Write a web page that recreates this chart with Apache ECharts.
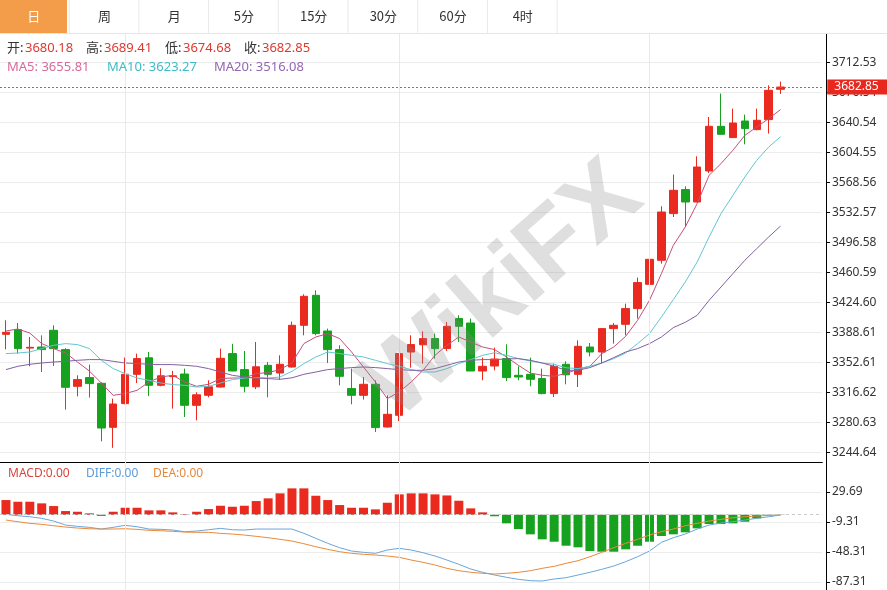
<!DOCTYPE html>
<html><head><meta charset="utf-8">
<script src="https://cdn.jsdelivr.net/npm/echarts@6/dist/echarts.min.js"></script>
<style>html,body{margin:0;padding:0;background:#fff;}#c{width:887px;height:590px;}</style>
</head><body><div id="c"></div>
<script>
const tabs = ['日','周','月','5分','15分','30分','60分','4时'];
const opens = [3386.13,3391.77,3369.57,3370.89,3390.93,3367.77,3323.73,3334.17,3327.33,3274.53,3302.97,3338.13,3357.93,3324.93,3335.37,3338.49,3300.93,3312.93,3322.89,3362.97,3343.77,3323.13,3348.93,3339.69,3346.89,3396.93,3432.93,3390.09,3367.77,3320.97,3312.93,3326.13,3274.89,3288.93,3364.89,3373.53,3380.97,3368.97,3404.97,3399.69,3342.09,3348.09,3356.97,3336.93,3338.13,3332.97,3314.97,3350.13,3338.13,3370.89,3364.89,3392.97,3398.13,3416.97,3446.13,3474.93,3530.97,3559.77,3544.89,3582.09,3635.73,3622.17,3642.09,3631.77,3643.77,3680.18];
const closes = [3388.53,3368.97,3370.53,3367.77,3368.97,3322.53,3331.77,3326.97,3273.69,3302.49,3338.13,3356.97,3324.93,3336.33,3336.33,3300.93,3313.53,3323.13,3357.33,3342.09,3323.73,3347.13,3338.13,3350.13,3396.93,3431.73,3386.97,3367.77,3335.73,3312.93,3326.13,3274.17,3290.13,3362.97,3373.77,3380.97,3368.97,3395.73,3395.73,3342.09,3347.73,3356.49,3334.17,3334.89,3332.13,3314.97,3347.73,3337.53,3371.73,3364.89,3392.97,3396.93,3416.97,3448.17,3476.13,3532.89,3558.93,3544.89,3586.89,3635.73,3626.13,3639.69,3632.97,3642.93,3678.93,3682.85];
const lows = [3368.13,3362.97,3347.73,3340.89,3348.09,3295.77,3311.73,3310.17,3257.73,3249.93,3302.13,3327.69,3311.97,3323.73,3296.97,3286.89,3282.93,3310.53,3322.17,3341.73,3316.53,3320.37,3310.53,3331.77,3346.17,3384.93,3384.93,3351.69,3324.93,3302.13,3307.77,3268.89,3274.17,3282.09,3346.17,3350.97,3356.97,3366.09,3376.89,3342.09,3330.93,3342.93,3330.09,3330.93,3323.73,3314.13,3310.89,3326.13,3322.89,3359.73,3351.69,3374.97,3384.93,3404.97,3436.89,3470.97,3526.89,3514.89,3544.53,3579.69,3626.13,3622.17,3614.13,3630.93,3626.97,3674.68];
const highs = [3402.93,3399.69,3382.89,3384.93,3396.93,3369.33,3336.93,3349.77,3328.53,3308.97,3358.17,3362.97,3364.89,3345.33,3342.33,3344.97,3316.53,3330.93,3368.97,3374.73,3366.09,3376.89,3352.89,3360.93,3401.37,3434.13,3438.93,3392.97,3372.93,3344.97,3334.89,3330.93,3312.93,3363.69,3384.93,3389.73,3386.97,3400.89,3408.93,3404.97,3358.17,3370.17,3374.13,3347.73,3358.17,3344.97,3350.97,3353.73,3378.93,3375.69,3393.33,3399.69,3422.97,3454.17,3488.97,3539.73,3577.77,3563.73,3599.73,3646.89,3674.97,3656.97,3649.77,3656.97,3684.93,3689.41];
const ma5 = [3390.09,3392.49,3387.69,3374.97,3368.97,3363.69,3352.89,3342.09,3327.69,3312.93,3314.97,3318.93,3328.89,3334.89,3336.93,3328.89,3323.73,3326.13,3332.97,3333.69,3333.69,3338.97,3340.17,3343.77,3351.93,3374.97,3382.89,3386.97,3380.97,3364.89,3346.89,3328.89,3308.97,3316.89,3328.89,3342.93,3360.93,3372.93,3382.89,3376.89,3370.89,3367.77,3358.89,3348.93,3339.69,3336.93,3335.73,3339.33,3344.13,3347.73,3362.97,3370.89,3383.73,3402.93,3426.93,3458.97,3492.93,3514.89,3542.97,3576.93,3590.97,3606.93,3624.93,3634.89,3644.97,3655.81];
const ma10 = [3362.97,3363.69,3364.89,3368.97,3372.93,3374.97,3373.77,3368.97,3354.93,3344.97,3338.97,3333.69,3330.93,3327.69,3325.77,3324.93,3322.89,3323.73,3327.69,3331.77,3333.69,3334.17,3333.69,3334.89,3341.73,3350.97,3358.89,3364.89,3362.97,3360.93,3358.89,3354.93,3350.97,3347.73,3343.77,3340.89,3340.89,3344.97,3350.97,3355.77,3360.93,3363.93,3360.93,3356.97,3354.09,3351.69,3350.13,3345.93,3344.97,3347.73,3351.69,3356.97,3363.69,3374.97,3386.97,3406.89,3427.77,3448.89,3472.89,3502.89,3530.97,3552.93,3574.89,3594.93,3610.89,3623.27];
const ma20 = [3343.77,3347.73,3350.13,3351.69,3352.89,3353.73,3354.93,3355.77,3355.77,3353.73,3351.69,3350.97,3350.13,3349.77,3349.77,3348.93,3347.73,3344.97,3340.89,3336.93,3334.89,3333.69,3332.97,3332.13,3333.93,3338.13,3340.89,3343.77,3344.97,3346.17,3346.89,3346.17,3344.97,3343.77,3342.93,3342.93,3344.97,3348.93,3352.89,3354.93,3355.77,3355.77,3356.49,3356.97,3354.93,3351.69,3347.73,3342.93,3342.93,3346.17,3351.69,3358.17,3364.89,3368.97,3374.97,3382.89,3394.17,3400.53,3408.93,3426.93,3442.89,3458.97,3474.93,3488.97,3502.89,3516.08];
const macdHist = [19.1,16.9,16.9,14.8,11.3,4.8,3.9,1.8,-1.5,3.9,9.1,9.1,5.7,5.7,3.1,0.9,3.9,7.4,11.7,10.4,11.7,17.8,21.3,27.8,34.3,34.3,24.7,19.1,12.6,9.1,9.1,7.0,15.6,26.5,27.8,27.8,26.5,25.1,18.2,8.3,3.1,-2,-11.2,-18.6,-25.5,-32,-35.1,-40.3,-42.4,-47.2,-48.1,-48.1,-45,-40.3,-35.1,-27.7,-25.5,-22.9,-17.7,-12.1,-12.1,-11.2,-9.1,-4.7,-1,-0.3];
const diff = [0.5,-1.3,-2.6,-4.7,-8.2,-13.4,-15.1,-16.4,-18.6,-16.4,-13.8,-15.6,-18.6,-19,-19.9,-22.1,-21.2,-19.5,-17.7,-19.5,-19.9,-18.6,-18.6,-18.6,-18.6,-24.2,-30.7,-37.2,-42.9,-47.2,-48.9,-50.2,-45.9,-43.7,-45.9,-49.4,-53.7,-58.9,-64.5,-70.6,-74.9,-78.4,-81.4,-84,-85.8,-86.2,-83.6,-81.9,-78.4,-74.9,-71,-66.7,-61.1,-54.6,-47.2,-35.9,-29.9,-25.1,-18.6,-13.4,-10.8,-9.1,-6.9,-4.7,-2.6,-0.4];
const dea = [-6.9,-9.1,-11.2,-12.5,-14.3,-16,-17.3,-18.2,-18.6,-18.6,-18.2,-19,-20.3,-20.8,-21.6,-22.5,-22.9,-22.9,-24.2,-25.1,-26.4,-28.1,-29.9,-32,-34.2,-37.7,-41.6,-45,-48.1,-50.2,-51.5,-52.4,-53.7,-55.4,-58.9,-61.9,-65.4,-69.7,-72.8,-74.9,-76.2,-77.1,-76.2,-74.9,-72.8,-69.7,-67.1,-63.2,-59.8,-54.6,-48.9,-42.9,-37.2,-32,-26.4,-22.1,-18.6,-14.3,-11.2,-8.2,-6,-3.9,-2.6,-1.7,-0.8,-0.4];
const priceTicks = [3244.64,3280.63,3316.62,3352.61,3388.61,3424.60,3460.59,3496.58,3532.57,3568.56,3604.55,3640.54,3676.54,3712.53];
const macdTicks = [29.69,-9.31,-48.31,-87.31];
const monthStarts = [10,33,54];
const lastQuote = {open:3680.18, high:3689.41, low:3674.68, close:3682.85};
const lastMA = {ma5:3655.81, ma10:3623.27, ma20:3516.08};
const slotCount = 69;
const categories = Array.from({length: slotCount}, (_, i) => 'D' + (i + 1));

const UP = '#ea2a1f', DOWN = '#16a11e';
const FONT = '"Noto Sans", "Noto Sans CJK SC", sans-serif';
const gridL = -5.7, slot = 12, gridW = slot * slotCount;
const axisX = 826;
const yOff = axisX - (gridL + gridW);

const candleData = opens.map((o, i) => [o, closes[i], lows[i], highs[i]]);
const vLines = monthStarts.map(i => ({xAxis: categories[i]}));

const graphics = [];
const tabW = 69.7;
tabs.forEach((t, i) => {
  graphics.push({type:'rect', shape:{x:i*tabW, y:0, width:(i===0?67:tabW), height:33}, style:{fill: i===0 ? '#f39c4a' : '#ffffff'}, z:100});
  graphics.push({type:'line', shape:{x1:(i+1)*tabW-0.5, y1:0, x2:(i+1)*tabW-0.5, y2:33}, style:{stroke:'#e8e8e8', lineWidth:1}, z:101});
  graphics.push({type:'text', x: i*tabW + tabW/2 - (i===0?1:0), y: 16.5, style:{text:t, fill: i===0 ? '#fff' : '#333', font:'13px "Noto Sans CJK SC", sans-serif', align:'center', verticalAlign:'middle', textAlign:'center', textVerticalAlign:'middle'}, z:102});
});
graphics.push({type:'line', shape:{x1:0, y1:33.5, x2:887, y2:33.5}, style:{stroke:'#e6e6e6', lineWidth:1}, z:101});

function txt(x, y, s, color, size) {
  graphics.push({type:'text', x:x, y:y, style:{text:s, fill:color, font: size + 'px ' + FONT, align:'left', verticalAlign:'middle', textAlign:'left', textVerticalAlign:'middle'}, z:110});
}
const LBL = '#333', VAL = '#dc3a30';
txt(7, 48, '开:', LBL, 13); txt(25, 48, lastQuote.open.toFixed(2), VAL, 13);
txt(86, 48, '高:', LBL, 13); txt(104, 48, lastQuote.high.toFixed(2), VAL, 13);
txt(165, 48, '低:', LBL, 13); txt(183, 48, lastQuote.low.toFixed(2), VAL, 13);
txt(244, 48, '收:', LBL, 13); txt(262, 48, lastQuote.close.toFixed(2), VAL, 13);
txt(7, 67, 'MA5: ' + lastMA.ma5.toFixed(2), '#d8699b', 13);
txt(107, 67, 'MA10: ' + lastMA.ma10.toFixed(2), '#3cbcc6', 13);
txt(214, 67, 'MA20: ' + lastMA.ma20.toFixed(2), '#9466b6', 13);
txt(8, 473.5, 'MACD:0.00', '#d8453e', 12);
txt(86, 473.5, 'DIFF:0.00', '#5d9bd6', 12);
txt(153, 473.5, 'DEA:0.00', '#e38a3f', 12);

graphics.push({type:'text', x:503, y:292, rotation:0.72, style:{text:'WikiFX', fill:'rgba(140,140,140,0.28)', font:'bold 100px "Liberation Sans", sans-serif', align:'center', verticalAlign:'middle', textAlign:'center', textVerticalAlign:'middle'}, z:90, silent:true});

const chart = echarts.init(document.getElementById('c'));
chart.setOption({
  animation: false,
  backgroundColor: '#ffffff',
  grid: [
    {left: gridL, top: 34, width: gridW, height: 428},
    {left: gridL, top: 462, width: gridW, height: 128}
  ],
  xAxis: [
    {type:'category', data:categories, gridIndex:0, boundaryGap:true,
     axisLine:{show:true, lineStyle:{color:'#000', width:1}}, axisTick:{show:false}, axisLabel:{show:false}, splitLine:{show:false}},
    {type:'category', data:categories, gridIndex:1, boundaryGap:true,
     axisLine:{show:false}, axisTick:{show:false}, axisLabel:{show:false}, splitLine:{show:false}}
  ],
  yAxis: [
    {type:'value', gridIndex:0, position:'right', offset:yOff, min:3232.9, max:3746.5,
     axisLine:{show:true, lineStyle:{color:'#000', width:1}},
     axisTick:{show:true, length:4, lineStyle:{color:'#000'}, customValues:priceTicks},
     axisLabel:{show:true, customValues:priceTicks, formatter:v => v.toFixed(2), color:'#333', fontSize:12, margin:6, fontFamily:FONT},
     splitLine:{show:true, lineStyle:{color:'#ececec', width:1}}},
    {type:'value', gridIndex:1, position:'right', offset:yOff, min:-97.9, max:68.6,
     axisLine:{show:true, lineStyle:{color:'#000', width:1}},
     axisTick:{show:true, length:4, lineStyle:{color:'#000'}, customValues:macdTicks},
     axisLabel:{show:true, customValues:macdTicks, formatter:v => v.toFixed(2), color:'#333', fontSize:12, margin:6, fontFamily:FONT},
     splitLine:{show:true, lineStyle:{color:'#ececec', width:1}}}
  ],
  graphic: graphics,
  series: [
    {type:'line', xAxisIndex:0, yAxisIndex:0, data:[], z:1, silent:true,
     markLine:{silent:true, symbol:['none','none'], label:{show:false}, lineStyle:{color:'#e9e9e9', type:'solid', width:1}, data:vLines}},
    {type:'line', xAxisIndex:1, yAxisIndex:1, data:[], z:1, silent:true,
     markLine:{silent:true, symbol:['none','none'], label:{show:false}, lineStyle:{color:'#e9e9e9', type:'solid', width:1}, data:vLines.concat([{yAxis:0, lineStyle:{color:'#c9c9c9', type:[3,3]}}])}},
    {type:'candlestick', name:'K', xAxisIndex:0, yAxisIndex:0, data:candleData, barWidth:8, z:2,
     itemStyle:{color:UP, color0:DOWN, borderColor:UP, borderColor0:DOWN, borderWidth:1},
     markLine:{silent:true, symbol:['none','none'], data:[{yAxis:lastQuote.close}],
       lineStyle:{color:'#f0454c', type:[2,2], width:1, opacity:1},
       label:{show:true, position:'end', formatter:lastQuote.close.toFixed(2), color:'#fff', backgroundColor:'#e8281e', padding:[2,12,1,7], fontSize:12, fontFamily:FONT, distance:5}}},
    {type:'line', name:'MA5', xAxisIndex:0, yAxisIndex:0, data:ma5, symbol:'none', z:3, lineStyle:{width:1, color:'#c4517a'}},
    {type:'line', name:'MA10', xAxisIndex:0, yAxisIndex:0, data:ma10, symbol:'none', z:3, lineStyle:{width:1, color:'#62c7d1'}},
    {type:'line', name:'MA20', xAxisIndex:0, yAxisIndex:0, data:ma20, symbol:'none', z:3, lineStyle:{width:1, color:'#8460a2'}},
    {type:'bar', name:'MACD', xAxisIndex:1, yAxisIndex:1, barWidth:9, z:2,
     data:macdHist.map(v => ({value:v, itemStyle:{color: v >= 0 ? UP : DOWN}}))},
    {type:'line', name:'DIFF', xAxisIndex:1, yAxisIndex:1, data:diff, symbol:'none', z:3, lineStyle:{width:1, color:'#6aa6dc'}},
    {type:'line', name:'DEA', xAxisIndex:1, yAxisIndex:1, data:dea, symbol:'none', z:3, lineStyle:{width:1, color:'#ea8a3a'}}
  ]
});
</script></body></html>
